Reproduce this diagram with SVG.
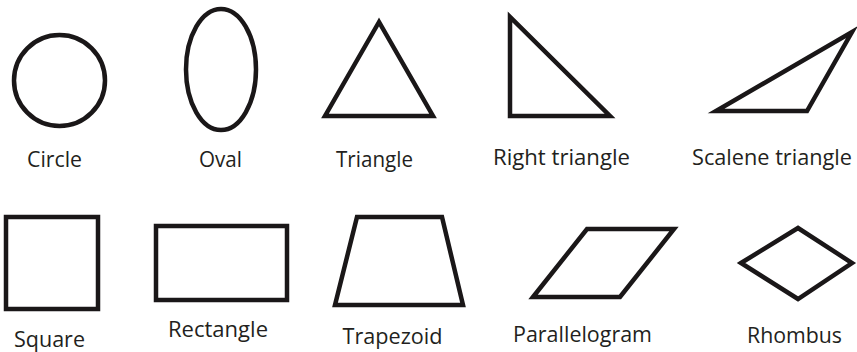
<svg xmlns="http://www.w3.org/2000/svg" width="857" height="352" viewBox="0 0 857 352">
<style>
.s{fill:none;stroke:#1a1718;stroke-width:4.5;stroke-linejoin:miter;stroke-miterlimit:10}
.t{font-family:"Open Sans","Noto Sans","Liberation Sans",sans-serif;font-size:21px;fill:#231f20;text-anchor:middle}
</style>
<rect width="857" height="352" fill="#ffffff"/>
<g id="circle">
<circle class="s" cx="59.5" cy="80.5" r="45.5"/>
<text class="t" x="54.5" y="166.5" textLength="55" lengthAdjust="spacingAndGlyphs">Circle</text>
</g>
<g id="oval">
<ellipse class="s" cx="221" cy="69.5" rx="35" ry="60.5"/>
<text class="t" x="220.5" y="166.5" textLength="43" lengthAdjust="spacingAndGlyphs">Oval</text>
</g>
<g id="triangle">
<polygon class="s" points="379,22 325,116 433,116"/>
<text class="t" x="374.5" y="166.5" textLength="77" lengthAdjust="spacingAndGlyphs">Triangle</text>
</g>
<g id="right-triangle">
<polygon class="s" points="510,17 510,116 610,116"/>
<text class="t" x="561.5" y="165" textLength="137" lengthAdjust="spacingAndGlyphs">Right triangle</text>
</g>
<g id="scalene-triangle">
<polygon class="s" points="716,111 807,111 852,32"/>
<text class="t" x="772" y="165" textLength="160" lengthAdjust="spacingAndGlyphs">Scalene triangle</text>
</g>
<g id="square">
<rect class="s" x="6" y="217" width="92" height="92"/>
<text class="t" x="49.5" y="347" textLength="71" lengthAdjust="spacingAndGlyphs">Square</text>
</g>
<g id="rectangle">
<rect class="s" x="156" y="226" width="131" height="74"/>
<text class="t" x="218" y="336.5" textLength="100" lengthAdjust="spacingAndGlyphs">Rectangle</text>
</g>
<g id="trapezoid">
<polygon class="s" points="357,217 442,217 463,305 335,305"/>
<text class="t" x="392.5" y="344" textLength="100" lengthAdjust="spacingAndGlyphs">Trapezoid</text>
</g>
<g id="parallelogram">
<polygon class="s" points="533,297 587,229 674,229 620,297"/>
<text class="t" x="582.5" y="341.5" textLength="139" lengthAdjust="spacingAndGlyphs">Parallelogram</text>
</g>
<g id="rhombus">
<polygon class="s" points="741,263 798,228 852,263 798,299"/>
<text class="t" x="794.5" y="343" textLength="95" lengthAdjust="spacingAndGlyphs">Rhombus</text>
</g>
<g id="connectors"></g>
</svg>
